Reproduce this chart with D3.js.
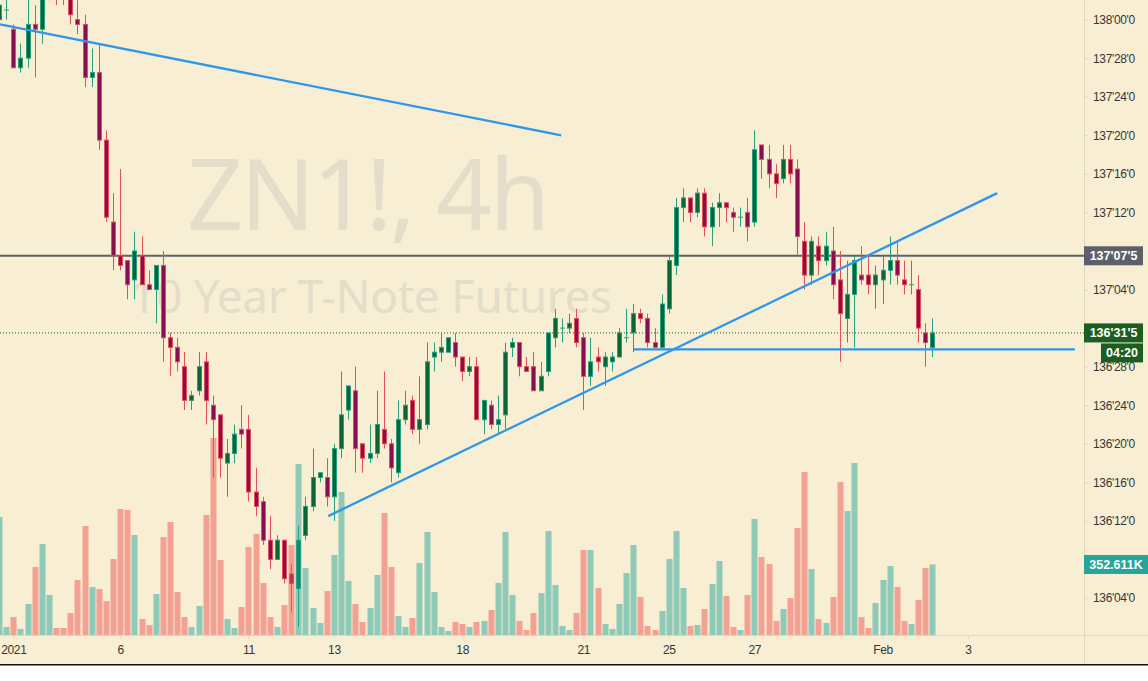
<!DOCTYPE html>
<html>
<head>
<meta charset="utf-8">
<script src="https://cdn.jsdelivr.net/npm/d3@7"></script>
<style>
  html, body { margin: 0; padding: 0; background: #fff; overflow: hidden; }
  svg { display: block; font-family: "Liberation Sans", sans-serif; }
  .axis path { display: none; }
  .axis line { stroke: #e0d7bc; }
  .axis text { fill: #363636; font-size: 12px; letter-spacing: -0.35px; }
</style>
</head>
<body>
<div id="chart"></div>
<script>
// prices are in 32nds above 136'00, volume is in thousands
const opens = [64,65,63,59,60,63.5,63,67,68,67.5,66.5,64,63.5,58,58.5,51.5,43,39.5,39,37,39.5,36.5,36,38.5,31,30,28,24.5,25.5,28.5,24,23,18,19,21.5,21.5,15,14,10,8,10,6.5,5,10.5,13.5,16.5,16.5,14.5,19.5,23.5,25.5,20,18.5,19,21.5,20,17,22.5,24.5,21.5,22,29,29.5,29.5,30.5,29,27.5,28,22.5,24,22,23,30,30.5,28,28,25.5,27.5,31,32,32,33,31,27,29,28,28.5,29,31,31.5,33.5,33,30.5,30,34,38.5,44.5,45.5,44,46,42.5,44.5,45,44,43.5,44,43,51,49.5,48,47.5,49.5,48.5,41,37.5,40.5,39,40,37,33,35.5,37.5,37.5,36.5,37,38,39,37,36.5,36,31.5,30];
const highs = [67,66.5,63.5,61.5,67,65.5,68,69,69,68,67,66,64.5,61,61.5,52.5,46,48.5,39,42,41.5,38,38.5,40,31.5,31,29.5,25.5,29.5,29.5,25,23,20.5,22,24,23,17.5,14.5,12.5,10.5,10,7.5,11.5,14.5,19.5,17,18.5,20,27.5,26,28,20,22,25.5,27.5,20.5,24.5,25.5,25,27,30.5,30.5,31.5,31,31.5,29,29,29,24.5,24.5,25,30.5,31,30.5,29,29.5,28.5,31.5,34,33,33.5,34,31.5,31,30,29.5,29.5,32,34,34.5,34,33.5,32,35.5,39.5,45.5,46.5,45.5,46.5,46.5,45,46,45,44.5,44.5,45.5,52.5,51,51,49,51,51,49.5,43,41.5,41.5,42,42.5,40,39,39.5,40.5,39.5,38.5,39.5,41.5,41,39,39,37.5,32.5,33];
const lows = [64,64,59,58.5,59,58,61.5,66,65.5,65.5,63.5,62.5,57,57,50.5,43,38,38,35,35,36.5,36,32.5,28.5,27,27.5,23.5,23.5,25,22,16.5,16.5,14.5,18,19.5,14,12.5,9.5,7,8,5.5,2.5,1,10,13,16,13.5,12,18.5,22.5,17,17,18,18.5,19.5,16,16.5,22,21,20,21.5,27.5,28.5,29.5,28,26.5,27,22.5,21,21.5,21,21.5,29,27,27.5,25.5,25.5,27,30,30.5,31.5,30,23.5,26,27.5,26,27.5,29,30.5,29.5,32.5,30,30,30,33.5,37.5,43,43,43.5,41.5,40.5,42.5,43,42,42.5,41,42.5,47.5,46.5,45.5,47,47,39.5,36,36.5,37.5,38.5,35,28.5,30.5,30,36.5,35.5,34,34.5,36.5,36.5,35.5,35.5,30.5,28,29];
const closes = [65.5,65,59,60,63.5,63,67,68,67,66.5,64.5,63.5,58,58.5,51.5,43.5,39.5,38.5,36.5,40,36.5,36,38.5,31,30,28.5,24.5,25,28,24.5,22.5,18.5,19,21,21,15,13.5,10,8,10,6,5.5,10,13.5,16.5,17,14.5,19.5,23,26,19.5,18.5,19,22,20,17.5,22.5,24,21.5,22.5,28.5,29.5,30,31,29,27.5,28,22.5,24.5,22,22.5,29.5,30.5,28,27.5,25.5,27,31.5,33,32,32.5,30.5,27,28.5,28.5,29,29,31.5,31,33.5,33,30.5,30,34.5,39,44.5,45.5,44,46,42.5,44.5,45,44.5,43.5,43.5,42.5,50.5,49.5,48,47,49.5,48,41.5,37.5,41,39,40.5,36.5,33.5,35.5,39,37,36.5,37.5,38,39,37.5,36.5,36.5,32,30.5,31.5];
const volumes = [590,40,90,30,155,340,455,200,35,35,110,275,545,240,230,170,380,630,625,500,80,50,205,490,565,215,90,40,145,600,985,375,80,35,140,440,505,260,90,40,150,450,855,335,135,60,220,400,715,270,155,65,135,300,610,340,95,40,85,360,515,215,40,20,65,55,40,65,70,125,260,515,200,70,25,110,210,520,250,45,25,110,425,425,235,55,30,155,310,450,190,45,25,120,380,520,235,45,50,130,255,370,195,40,25,200,580,390,355,70,130,185,535,815,330,80,60,190,765,620,860,90,35,160,275,345,240,70,55,175,335,352.611];

const timeTicks = [2, 17, 35, 47, 65, 82, 94, 106, 124, 136];
const timeLabels = ["2021", "6", "11", "13", "18", "21", "25", "27", "Feb", "3"];
const priceTicks = [64, 60, 56, 52, 48, 44, 36, 28, 24, 20, 16, 12, 8, 4];

// support and resistance level (same units as the candles)
const levelPrice = 39.5;
const countdown = "04:20";

// hand drawn trend lines, [bar index, price] at both ends
const trendDown = [[0.13, 63.5], [78.9, 52]];
const trendUp = [[46.2, 12.5], [140.1, 46]];
const trendFlat = [[89.1, 29.8], [151, 29.8]];

const width = 1148, height = 681;
const plotRight = 1084, timeY = 635, chartBottom = 664;

const bg = "#f7eed4", upBody = "#0b6437", upEdge = "#26a07f", downBody = "#880e4f", downEdge = "#e2505c";
const lineBlue = "#2f96e8", levelGrey = "#5d606b", lastGreen = "#1b5e20", volGreen = "#26a69a";
const markColor = "#e4ddca", axisLine = "#e0d7bc";

const bars = opens.map((o, i) => ({ i, open: o, high: highs[i], low: lows[i], close: closes[i], vol: volumes[i] }));
const last = bars[bars.length - 1];

const x = d3.scaleLinear().domain([0, 131]).range([-0.95, 932.4]);
const y = d3.scaleLinear().domain([0, 64]).range([636.6, 19.6]);
const yVol = d3.scaleLinear().domain([0, 1000]).range([timeY, timeY - 200]);

// 137'07'5 style price
function fmtPrice(v) {
    const whole = Math.floor(v);
    const pts = 136 + Math.floor(whole / 32);
    const frac = whole % 32;
    return `${pts}'${String(frac).padStart(2, "0")}'${v > whole ? 5 : 0}`;
}

const svg = d3.select("#chart").append("svg")
    .attr("width", width)
    .attr("height", height);

svg.append("rect").attr("width", width).attr("height", chartBottom).attr("fill", bg);

// Watermark
svg.append("text")
    .attr("x", 187).attr("y", 230)
    .attr("textLength", 363)
    .style("font-family", "'Noto Sans', sans-serif")
    .style("font-size", "98px")
    .attr("fill", markColor)
    .text("ZN1!, 4h");

svg.append("text")
    .attr("x", 130).attr("y", 313)
    .attr("textLength", 482)
    .style("font-family", "'Noto Sans', sans-serif")
    .style("font-size", "46px")
    .attr("fill", markColor)
    .text("10 Year T-Note Futures");

// Last price and level lines
svg.append("line")
    .attr("x1", 0).attr("x2", plotRight)
    .attr("y1", y(last.close)).attr("y2", y(last.close))
    .attr("stroke", lastGreen)
    .attr("stroke-dasharray", "1 2");

svg.append("line")
    .attr("x1", 0).attr("x2", plotRight)
    .attr("y1", y(levelPrice)).attr("y2", y(levelPrice))
    .attr("stroke", levelGrey)
    .attr("stroke-width", 2);

// Candles
const candle = svg.append("g").selectAll("g")
    .data(bars)
    .join("g")
    .attr("transform", d => `translate(${Math.round(x(d.i))},0)`);

candle.append("line")
    .attr("x1", 0.5).attr("x2", 0.5)
    .attr("y1", d => y(d.high))
    .attr("y2", d => y(d.low))
    .attr("stroke", d => d.close >= d.open ? upEdge : downEdge);

candle.append("rect")
    .attr("x", -1.5)
    .attr("width", 4)
    .attr("y", d => y(Math.max(d.open, d.close)))
    .attr("height", d => Math.abs(y(d.open) - y(d.close)))
    .attr("fill", d => d.close >= d.open ? upBody : downBody)
    .attr("stroke", d => d.close >= d.open ? upEdge : downEdge);

// Doji bars have no body height, so draw them as a dash
candle.filter(d => d.open === d.close).append("line")
    .attr("x1", -2).attr("x2", 3)
    .attr("y1", d => y(d.close)).attr("y2", d => y(d.close))
    .attr("stroke", upEdge);

// Volume sits over the candles, half transparent
svg.append("g").selectAll("rect")
    .data(bars)
    .join("rect")
    .attr("x", d => Math.round(x(d.i)) - 2.5)
    .attr("width", 6)
    .attr("y", d => yVol(d.vol))
    .attr("height", d => timeY - yVol(d.vol))
    .attr("fill", d => d.close >= d.open ? "#26a69a" : "#ef5350")
    .attr("opacity", 0.5);

// Trend lines
const trendLine = d3.line().x(d => x(d[0])).y(d => y(d[1]));
svg.append("g").selectAll("path")
    .data([trendDown, trendUp, trendFlat])
    .join("path")
    .attr("d", trendLine)
    .attr("fill", "none")
    .attr("stroke", lineBlue)
    .attr("stroke-width", 2.3);

// Time axis
svg.append("g")
    .attr("class", "axis")
    .attr("transform", `translate(0,${timeY})`)
    .call(d3.axisBottom(x).tickValues(timeTicks).tickSize(4).tickPadding(6)
        .tickFormat((d, i) => timeLabels[i]));

// Price axis
svg.append("g")
    .attr("class", "axis")
    .attr("transform", `translate(${plotRight},0)`)
    .call(d3.axisRight(y).tickValues(priceTicks).tickSize(4).tickPadding(5).tickFormat(fmtPrice));

svg.append("line")
    .attr("x1", 0).attr("x2", width)
    .attr("y1", timeY + 0.5).attr("y2", timeY + 0.5)
    .attr("stroke", axisLine);

svg.append("line")
    .attr("x1", plotRight + 0.5).attr("x2", plotRight + 0.5)
    .attr("y1", 0).attr("y2", chartBottom)
    .attr("stroke", axisLine);

// Tags on the price axis
function addTag(cy, x0, x1, fill, label) {
    svg.append("rect")
        .attr("x", x0).attr("y", cy - 9.5)
        .attr("width", x1 - x0).attr("height", 19)
        .attr("fill", fill);
    svg.append("text")
        .attr("x", (x0 + x1) / 2).attr("y", cy + 4.5)
        .attr("text-anchor", "middle")
        .attr("fill", "#fff")
        .style("font-size", "12.5px")
        .style("font-weight", 700)
        .text(label);
}

addTag(y(levelPrice), plotRight, 1143, levelGrey, fmtPrice(levelPrice));
addTag(y(last.close), plotRight, 1143, lastGreen, fmtPrice(last.close));
addTag(y(last.close) + 20, 1101, 1143, lastGreen, countdown);
addTag(yVol(last.vol), plotRight, 1148, volGreen, d3.format(".3f")(last.vol) + "K");

// Bottom border of the screenshot
svg.append("rect").attr("y", chartBottom).attr("width", width).attr("height", 1.5).attr("fill", "#111");
</script>
</body>
</html>
